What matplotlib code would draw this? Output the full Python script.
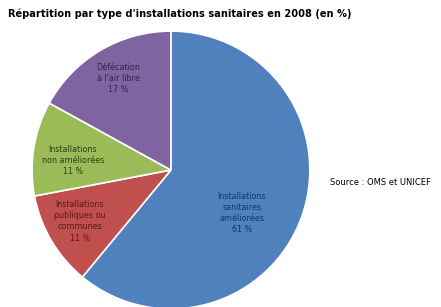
import matplotlib.pyplot as plt

# data
labels = ["Installations\nsanitaires\naméliorées\n61 %",
          "Installations\npubliques ou\ncommunes\n11 %",
          "Installations\nnon améliorées\n11 %",
          "Défécation\nà l'air libre\n17 %"]
values = [61, 11, 11, 17]
colors = ["#4F81BD", "#C0504D", "#9BBB59", "#8064A2"]
text_colors = ["#17375E", "#5A1A18", "#2F3D12", "#33244A"]
# label positions inside the pie (radius units)
label_pos = [(0.51, -0.31), (-0.655, -0.37), (-0.705, 0.07), (-0.38, 0.66)]

fig = plt.figure(figsize=(4.41, 3.07), dpi=100)
ax = fig.add_axes([0.0726, -0.0065, 0.630, 0.9055])

ax.pie(values, colors=colors, startangle=90, counterclock=False,
       wedgeprops={'edgecolor': 'white', 'linewidth': 1.2})
ax.set_xlim(-1, 1)
ax.set_ylim(-1, 1)
ax.set_aspect('equal')

for lab, (x, y), c in zip(labels, label_pos, text_colors):
    ax.text(x, y, lab, ha='center', va='center', fontsize=5.8, color=c,
            linespacing=1.3)

fig.text(0.018, 0.955, "Répartition par type d'installations sanitaires en 2008 (en %)",
         fontsize=7.1, fontweight='bold', ha='left', va='center')
fig.text(0.748, 0.405, "Source : OMS et UNICEF", fontsize=6, ha='left', va='center')

fig.savefig("out.png", dpi=100)
